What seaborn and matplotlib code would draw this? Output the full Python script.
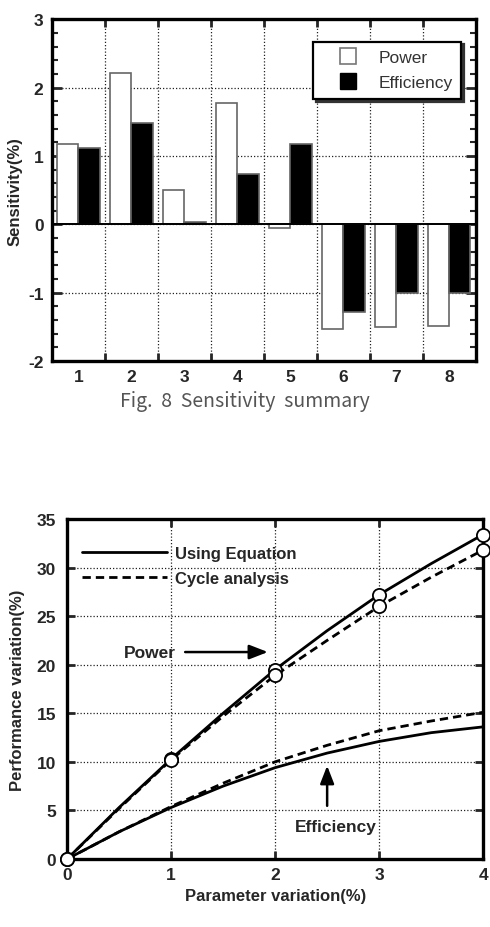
"""Sensitivity summary bars and performance variation curves."""

import matplotlib.pyplot as plt
import pandas as pd
import seaborn as sns
from matplotlib.lines import Line2D

# --- Fig. 8 data -----------------------------------------------------------
cases = ["1", "2", "3", "4", "5", "6", "7", "8"]
power_sens = [1.17, 2.22, 0.50, 1.77, -0.05, -1.53, -1.51, -1.49]
eff_sens = [1.12, 1.48, 0.03, 0.74, 1.18, -1.28, -1.01, -1.00]

# --- performance variation data -------------------------------------------
param_var = [0, 0.5, 1, 1.5, 2, 2.5, 3, 3.5, 4]
power_eq = [0, 5.3, 10.3, 15.0, 19.5, 23.5, 27.2, 30.4, 33.4]
power_cycle = [0, 5.2, 10.2, 14.7, 18.9, 22.5, 26.0, 29.0, 31.8]
eff_eq = [0, 2.8, 5.3, 7.5, 9.4, 10.9, 12.1, 13.0, 13.6]
eff_cycle = [0, 2.8, 5.4, 7.8, 10.0, 11.7, 13.2, 14.2, 15.1]
marker_idx = [0, 2, 4, 6, 8]

sns.set_theme(style="white")
plt.rcParams["font.family"] = ["Liberation Sans", "DejaVu Sans"]
plt.rcParams["font.weight"] = "bold"
plt.rcParams["axes.unicode_minus"] = False

GRID = dict(color="#222222", linestyle=(0, (1, 1.6)), linewidth=0.9)
TICK_SIZE = 12.5
LABEL_SIZE = 12

fig = plt.figure(figsize=(4.9, 9.28), dpi=100)

# ===================== top: sensitivity bars ===============================
ax1 = fig.add_axes([0.106, 0.610, 0.865, 0.368])
bars = pd.DataFrame({
    "case": cases * 2,
    "value": power_sens + eff_sens,
    "kind": ["Power"] * len(cases) + ["Efficiency"] * len(cases),
})
sns.barplot(data=bars, x="case", y="value", hue="kind", order=cases,
            hue_order=["Power", "Efficiency"],
            palette={"Power": "white", "Efficiency": "black"},
            width=0.8, edgecolor="#666666", linewidth=1.2, legend=False,
            ax=ax1, zorder=3)
ax1.set_xlim(-0.5, 7.5)
ax1.set_ylim(-2, 3)
ax1.set_xlabel("")
ax1.set_ylabel("Sensitivity(%)", fontsize=LABEL_SIZE, fontweight="bold",
               labelpad=4)
ax1.set_yticks([-2, -1, 0, 1, 2, 3])
ax1.set_yticks([v / 5 for v in range(-10, 15)], minor=True)
ax1.set_xticks(range(len(cases)), cases)
ax1.set_xticks([i + 0.5 for i in range(len(cases) - 1)], minor=True)
ax1.tick_params(axis="x", which="major", length=0, pad=6, labelsize=TICK_SIZE)
ax1.tick_params(axis="x", which="minor", direction="in", length=6, width=2,
                top=True, bottom=True)
ax1.tick_params(axis="y", which="major", direction="in", length=7, width=2,
                left=True, right=True, labelsize=TICK_SIZE, pad=6)
ax1.tick_params(axis="y", which="minor", direction="in", length=4, width=1.5,
                left=True, right=True)
for lbl in ax1.get_xticklabels() + ax1.get_yticklabels():
    lbl.set_fontweight("bold")
ax1.grid(False)
ax1.xaxis.grid(True, which="minor", **GRID)
ax1.yaxis.grid(True, which="major", **GRID)
ax1.axhline(0, color="black", linewidth=1.4, zorder=4)
for sp in ax1.spines.values():
    sp.set_linewidth(2.4)
    sp.set_color("black")
    sp.set_zorder(5)

handles = [Line2D([], [], linestyle="none", marker="s", markersize=12,
                  markerfacecolor="white", markeredgecolor="#777777",
                  markeredgewidth=1.2, label="Power"),
           Line2D([], [], linestyle="none", marker="s", markersize=12,
                  markerfacecolor="black", markeredgecolor="black",
                  label="Efficiency")]
leg1 = ax1.legend(handles=handles, loc="upper right",
                  bbox_to_anchor=(0.966, 0.935), fancybox=False,
                  shadow={"color": "#333333", "alpha": 1.0},
                  edgecolor="black", framealpha=1, handlelength=3.0,
                  handletextpad=0.25, borderpad=0.5, labelspacing=0.55,
                  borderaxespad=0, prop={"size": 12.5, "weight": "normal"})
leg1.get_frame().set_linewidth(1.6)
for t in leg1.get_texts():
    t.set_color("#333333")

fig.text(0.5, 0.567, "Fig.  8  Sensitivity  summary", ha="center",
         va="center", fontsize=14, color="#555555", fontweight="normal",
         family=["Noto Sans CJK KR", "DejaVu Sans"])

# ===================== bottom: performance variation ========================
ax2 = fig.add_axes([0.137, 0.0733, 0.849, 0.3664])
lines = pd.DataFrame({
    "x": param_var * 4,
    "y": power_eq + power_cycle + eff_eq + eff_cycle,
    "series": (["power_eq"] * 9 + ["power_cycle"] * 9
               + ["eff_eq"] * 9 + ["eff_cycle"] * 9),
})
styles = {"power_eq": "-", "power_cycle": (0, (3, 1.8)),
          "eff_eq": "-", "eff_cycle": (0, (3, 1.8))}
for name, sub in lines.groupby("series", sort=False):
    sns.lineplot(data=sub, x="x", y="y", color="black", linewidth=2.0,
                 linestyle=styles[name], ax=ax2, zorder=3)
    if name.startswith("power"):
        pts = sub.iloc[marker_idx]
        sns.scatterplot(data=pts, x="x", y="y", s=90, color="white",
                        edgecolor="black", linewidth=1.3, ax=ax2, zorder=6,
                        clip_on=False)

ax2.set_xlim(0, 4)
ax2.set_ylim(0, 35)
ax2.set_xticks([0, 1, 2, 3, 4])
ax2.set_yticks(range(0, 36, 5))
ax2.set_xlabel("Parameter variation(%)", fontsize=LABEL_SIZE,
               fontweight="bold", labelpad=4)
ax2.set_ylabel("Performance variation(%)", fontsize=LABEL_SIZE,
               fontweight="bold", labelpad=8)
ax2.tick_params(axis="both", direction="in", length=6, width=2,
                top=True, bottom=True, left=True, right=True,
                labelsize=TICK_SIZE)
ax2.tick_params(axis="x", pad=6)
ax2.tick_params(axis="y", pad=8)
for lbl in ax2.get_xticklabels() + ax2.get_yticklabels():
    lbl.set_fontweight("bold")
ax2.grid(True, **GRID)
for sp in ax2.spines.values():
    sp.set_linewidth(2.4)
    sp.set_color("black")
    sp.set_zorder(5)

leg_handles = [Line2D([], [], color="black", linewidth=2.0, linestyle="-",
                      label="Using Equation"),
               Line2D([], [], color="black", linewidth=2.0,
                      linestyle=(0, (3, 1.8)), label="Cycle analysis")]
leg2 = ax2.legend(handles=leg_handles, loc="upper left",
                  bbox_to_anchor=(0.0, 0.965), frameon=False,
                  handlelength=5.1, handletextpad=0.5, labelspacing=0.6,
                  prop={"size": 12, "weight": "bold"})

arrow = dict(arrowstyle="-|>,head_length=0.9,head_width=0.35",
             color="black", linewidth=1.8, shrinkA=4, shrinkB=0)
ax2.annotate("Power", xy=(1.93, 21.3), xytext=(0.55, 21.3), ha="left",
             va="center", fontsize=12.5, fontweight="bold", arrowprops=arrow,
             zorder=7)
ax2.annotate("", xy=(2.5, 9.6), xytext=(2.5, 4.9), arrowprops=arrow,
             zorder=7)
ax2.text(2.58, 3.3, "Efficiency", ha="center", va="center", fontsize=12.5,
         fontweight="bold", zorder=7)

fig.savefig("out.png", dpi=100)
